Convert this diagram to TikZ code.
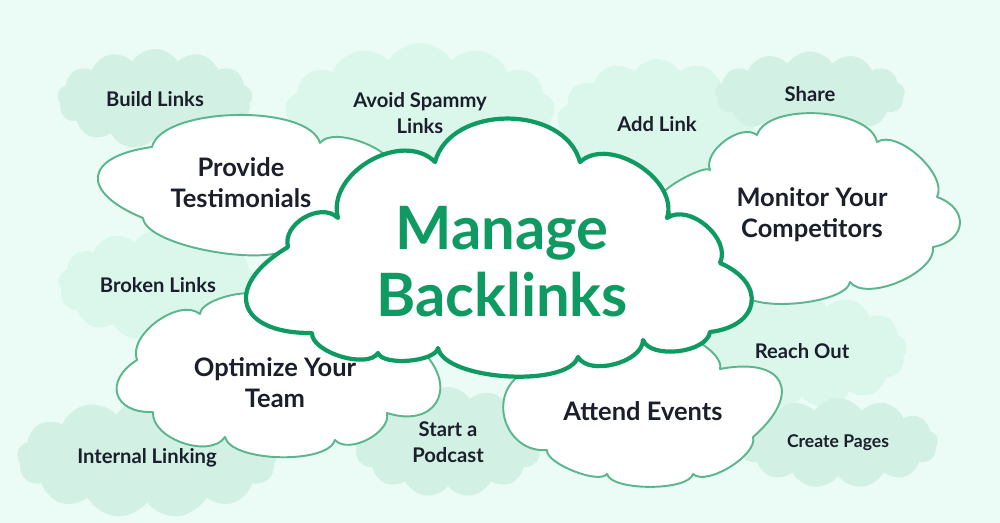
\documentclass[tikz,border=0pt]{standalone}
\usepackage{fontspec}
\setmainfont{Lato}
\usetikzlibrary{shapes.symbols,positioning}
\definecolor{bgcol}{HTML}{EBFCF6}
\definecolor{palecol}{HTML}{D2F0E3}
\definecolor{lightpale}{HTML}{DBF7EC}
\definecolor{edgecol}{HTML}{5BB58D}
\definecolor{maincol}{HTML}{0F9A62}
\definecolor{inkcol}{HTML}{1B1F2B}
\begin{document}
\begin{tikzpicture}[x=0.02cm,y=-0.02cm,
	  lobe/.style={bend left=75,looseness=#1},
	  puff/.style={cloud,cloud puffs=13,cloud puff arc=115,cloud ignores aspect,
	    align=center,inner sep=0pt,text=inkcol,font=\bfseries\fontsize{11.5}{14.7}\selectfont},
	  palecloud/.style={puff,fill=palecol},
	  lightcloud/.style={puff,fill=lightpale},
	  whiteline/.style={fill=white,draw=edgecol,line width=1.1pt,line join=round},
	  mainline/.style={fill=white,draw=maincol,line width=2.4pt,line join=round},
	  label/.style={align=center,text=inkcol,font=\bfseries\fontsize{14.5}{17.6}\selectfont},
	  title/.style={align=center,text=maincol,font=\bfseries\fontsize{34}{38}\selectfont}]
	  \fill[bgcol] (0,0) rectangle (1000,523);
	  \node[palecloud,minimum width=3.9cm,minimum height=2cm] (build) at (155,99) {Build Links};
	  \node[lightcloud,minimum width=5.4cm,minimum height=2.8cm] (avoid) at (420,113) {Avoid Spammy\\Links};
	  \node[lightcloud,minimum width=4cm,minimum height=2.6cm] (addlink) at (657,124) {Add Link};
	  \node[palecloud,minimum width=3.8cm,minimum height=1.7cm] (share) at (810,94) {Share};
	  \node[lightcloud,minimum width=4cm,minimum height=2.2cm] (broken) at (158,285) {Broken Links};
	  \node[palecloud,minimum width=5.2cm,minimum height=2.4cm] (internal) at (147,458) {Internal Linking};
	  \node[palecloud,minimum width=3.8cm,minimum height=2.2cm] (podcast) at (448,442) {Start a\\Podcast};
	  \node[lightcloud,minimum width=4.2cm,minimum height=2.3cm] (reachout) at (802,351) {Reach Out};
	  \node[palecloud,minimum width=4cm,minimum height=1.8cm,
	    font=\bfseries\fontsize{10}{12}\selectfont] (createpages) at (838,443) {Create Pages};
	  \draw[whiteline] (143,218) to[lobe=2.46] (152,147) to[lobe=0.63] (320,143) to[lobe=0.7] (395,172)
	    -- (330,240) -- (295,243) to[lobe=0.5] (143,218) -- cycle;
	  \node[label] (provide) at (241,183) {Provide\\Testimonials};
	  \draw[whiteline] (690,255) -- (662,196) to[lobe=0.35] (710,170) to[lobe=0.88] (757,135)
	    to[lobe=0.74] (877,142) to[lobe=0.77] (937,197) to[lobe=1.76] (933,247)
	    to[lobe=0.74] (850,282) to[lobe=0.53] (742,292) -- cycle;
	  \node[label] (monitor) at (812,215) {Monitor Your\\Competitors};
	  \draw[whiteline] (200,314) to[lobe=0.6] (265,299) -- (340,340) -- (425,354)
	    to[lobe=1.8] (387,413) to[lobe=0.88] (335,440) to[lobe=0.6] (225,437)
	    to[lobe=0.9] (153,412) to[lobe=1.87] (137,360) to[lobe=0.88] (200,314) -- cycle;
	  \node[label] (optimize) at (275,383) {Optimize Your\\Team};
	  \draw[whiteline] (670,338) to[lobe=0.7] (720,369) to[lobe=2.25] (753,437) to[lobe=0.67] (693,474)
	    to[lobe=0.53] (607,474) to[lobe=0.53] (547,450) to[lobe=1.3] (520,375)
	    -- (578,345) -- cycle;
	  \node[label] (attend) at (643,411) {Attend Events};
	  \draw[mainline] (435,162) to[lobe=1.06] (580,162) to[lobe=0.99] (667,218) to[lobe=0.99] (720,263)
	    to[lobe=1.87] (710,332) to[lobe=0.8] (643,340) to[lobe=0.85] (578,357)
	    to[lobe=0.6] (438,348) to[lobe=0.6] (378,353) to[lobe=0.72] (312,333)
	    to[lobe=2.18] (288,247) to[lobe=1.06] (338,218) to[lobe=1.06] (435,162) -- cycle;
	  \node[title] (main) at (502,262) {Manage\\Backlinks};
\end{tikzpicture}
\end{document}
